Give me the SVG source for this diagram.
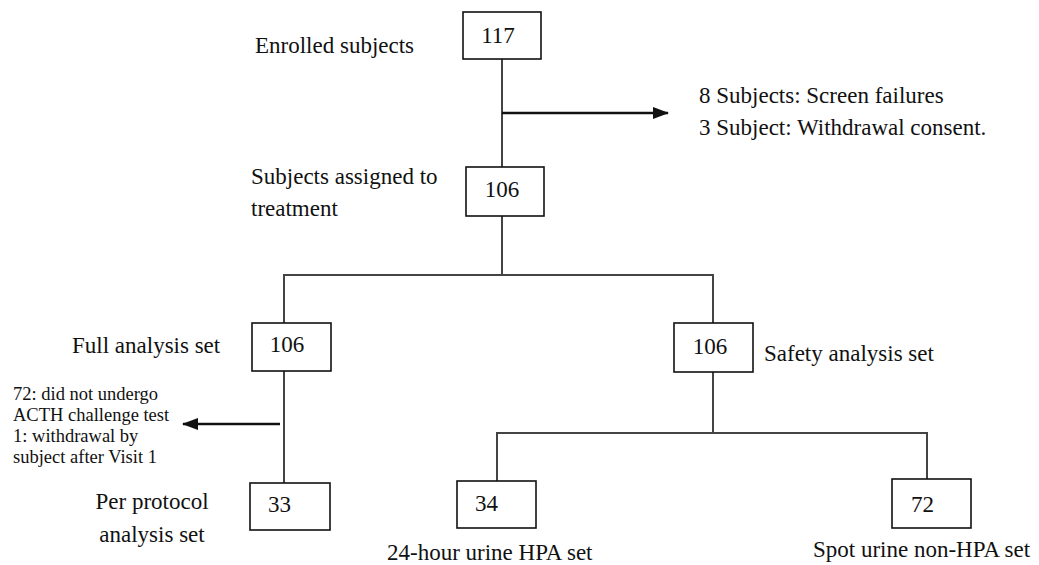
<svg xmlns="http://www.w3.org/2000/svg" width="1039" height="565" viewBox="0 0 1039 565">
<style>
.box{fill:#fff;stroke:#111;stroke-width:1.6}
.t{font-family:"Liberation Serif","Times New Roman",serif;font-size:23px;fill:#111}
.s{font-family:"Liberation Serif","Times New Roman",serif;font-size:18.5px;fill:#111}
.c{fill:none;stroke:#444;stroke-width:2}
.a{fill:none;stroke:#111;stroke-width:2.6}
</style>
<defs>
<marker id="ah" markerWidth="16" markerHeight="12" refX="15" refY="6" orient="auto" markerUnits="userSpaceOnUse">
<path d="M0,0 L16,6 L0,12 Z" fill="#111"/>
</marker>
</defs>
<rect width="1039" height="565" fill="#fff"/>
<g id="connectors">
<line class="c" x1="502" y1="59" x2="502" y2="167"/>
<line class="a" x1="502" y1="113" x2="668" y2="113" marker-end="url(#ah)"/>
<polyline class="c" points="502,216 502,275"/>
<polyline class="c" points="284,323 284,275 713,275 713,323"/>
<line class="c" x1="284" y1="371" x2="284" y2="483"/>
<line class="a" x1="280" y1="424" x2="183" y2="424" marker-end="url(#ah)"/>
<polyline class="c" points="713,372 713,433"/>
<polyline class="c" points="497,481 497,433 927,433 927,479"/>
</g>
<g id="enrolled">
<rect class="box" x="463" y="12" width="78" height="47"/>
<text class="t" x="498" y="43" text-anchor="middle">117</text>
<text class="t" x="255" y="53">Enrolled subjects</text>
</g>
<g id="excluded">
<text class="t" x="699" y="103">8 Subjects: Screen failures</text>
<text class="t" x="699" y="135">3 Subject: Withdrawal consent.</text>
</g>
<g id="assigned">
<rect class="box" x="466" y="167" width="78" height="49"/>
<text class="t" x="502" y="197" text-anchor="middle">106</text>
<text class="t" x="251" y="184">Subjects assigned to</text>
<text class="t" x="251" y="216">treatment</text>
</g>
<g id="full">
<rect class="box" x="252" y="323" width="79" height="48"/>
<text class="t" x="287" y="352" text-anchor="middle">106</text>
<text class="t" x="72" y="353">Full analysis set</text>
</g>
<g id="ppexcluded">
<text class="s" x="13" y="400">72: did not undergo</text>
<text class="s" x="13" y="421">ACTH challenge test</text>
<text class="s" x="13" y="442">1: withdrawal by</text>
<text class="s" x="13" y="463">subject after Visit 1</text>
</g>
<g id="perprotocol">
<rect class="box" x="250" y="483" width="80" height="47"/>
<text class="t" x="268" y="512">33</text>
<text class="t" x="152" y="509" text-anchor="middle">Per protocol</text>
<text class="t" x="152" y="542" text-anchor="middle">analysis set</text>
</g>
<g id="safety">
<rect class="box" x="674" y="323" width="79" height="49"/>
<text class="t" x="710" y="354" text-anchor="middle">106</text>
<text class="t" x="764" y="361">Safety analysis set</text>
</g>
<g id="hpa">
<rect class="box" x="457" y="481" width="79" height="47"/>
<text class="t" x="475" y="511">34</text>
<text class="t" x="387" y="560">24-hour urine HPA set</text>
</g>
<g id="nonhpa">
<rect class="box" x="892" y="479" width="79" height="49"/>
<text class="t" x="911" y="512">72</text>
<text class="t" x="813" y="557">Spot urine non-HPA set</text>
</g>
</svg>
